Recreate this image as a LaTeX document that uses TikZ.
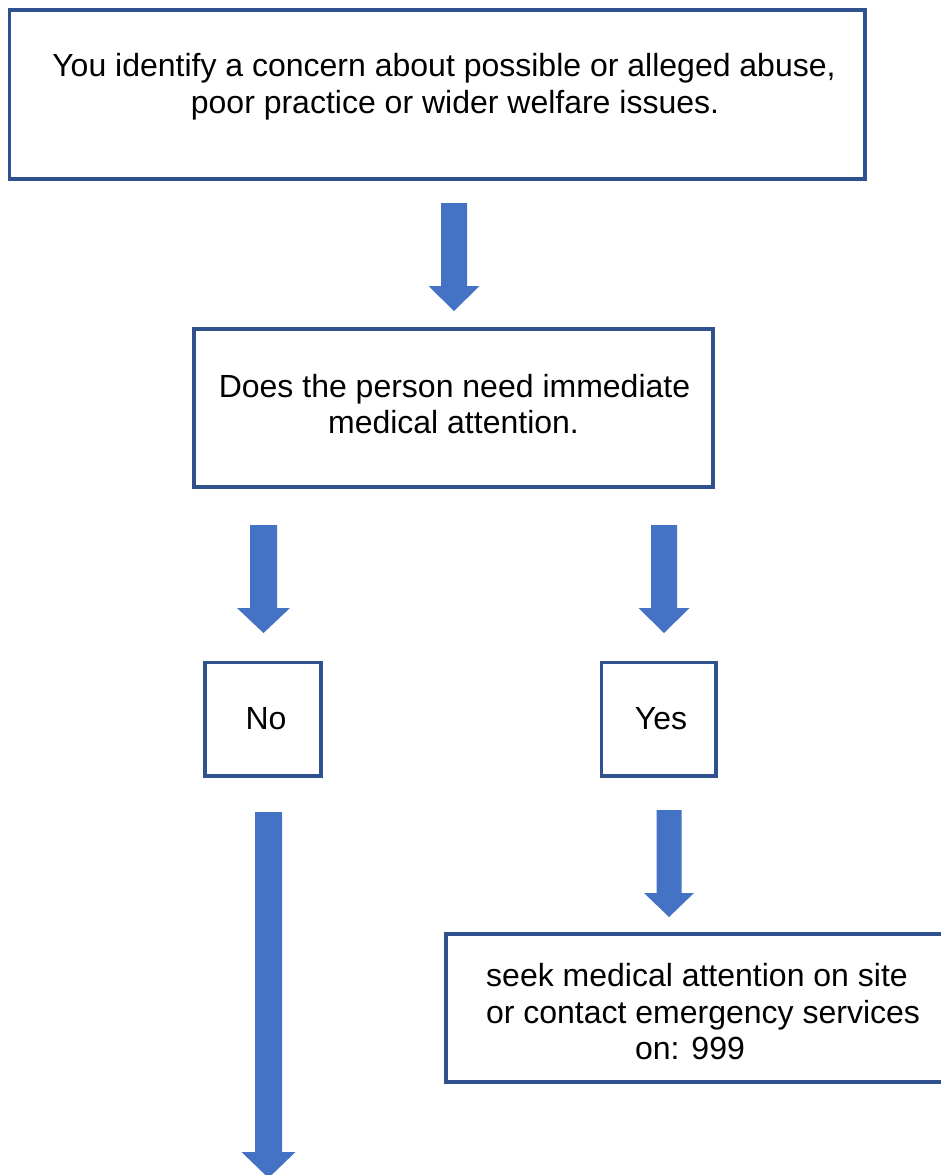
\documentclass[tikz,border=0pt]{standalone}
\usepackage{fontspec}
\setmainfont{Liberation Sans}
\definecolor{boxline}{HTML}{2F528F}
\definecolor{arrowfill}{HTML}{4472C4}
\newcommand{\flowarrow}[6]{% cx, top, headstart, tip, shaftw, headw
  \fill[arrowfill] ({#1-#5/2},#2) -- ({#1+#5/2},#2) -- ({#1+#5/2},#3) -- ({#1+#6/2},#3)
    -- (#1,#4) -- ({#1-#6/2},#3) -- ({#1-#5/2},#3) -- cycle;}
\begin{document}
\begin{tikzpicture}[x=1pt,y=-1pt,
  flowbox/.style={draw=boxline,line width=3.5pt,fill=white},
  txt/.style={anchor=base,inner sep=0pt,font=\fontsize{32}{36.8}\selectfont}]
\useasboundingbox (0,0) rectangle (941,1175);
% boxes
\draw[flowbox] (9.5,10) rectangle (865,179);
\node[inner sep=0pt] (b1) at (437,94.5) {};
\draw[flowbox] (194,329) rectangle (713,487);
\node[inner sep=0pt] (b2) at (453.5,408) {};
\draw[flowbox] (205,662.5) rectangle (321,776);
\node[inner sep=0pt] (no) at (263,719) {};
\draw[flowbox] (601.5,662.5) rectangle (716,776);
\node[inner sep=0pt] (yes) at (659,719) {};
\draw[flowbox] (446,934) rectangle (970,1082);
\node[inner sep=0pt] (seek) at (708,1008) {};
% texts
\node[txt] (t1a) at (444,76) {You identify a concern about possible or alleged abuse,};
\node[txt] (t1b) at (455,113.3) {poor practice or wider welfare issues.};
\node[txt] (t2a) at (454.5,397) {Does the person need immediate};
\node[txt] (t2b) at (453.5,433) {medical attention.};
\node[txt] (tno) at (266,729) {No};
\node[txt] (tyes) at (661,729) {Yes};
\node[txt] (t3a) at (697,986) {seek medical attention on site};
\node[txt] (t3b) at (703,1023) {or contact emergency services};
\node[txt] (t3c) at (690,1059) {on: 999};
% block arrows
\flowarrow{454}{203}{286}{311}{26}{51}
\flowarrow{263.5}{525}{608}{633}{27}{53}
\flowarrow{664}{525}{608}{633}{26}{51}
\flowarrow{669}{810}{893}{917}{25}{50}
\flowarrow{268.5}{812}{1152}{1178}{27}{54}
\end{tikzpicture}
\end{document}
